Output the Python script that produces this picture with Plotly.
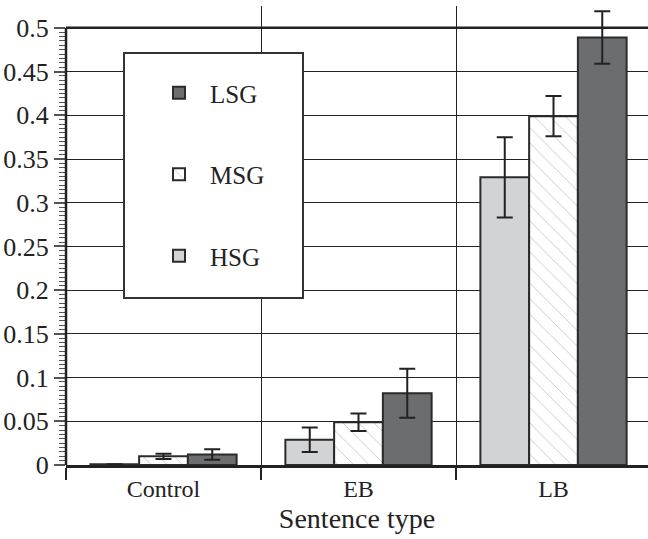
import plotly.graph_objects as go

categories = ["Control", "EB", "LB"]
groups = ["HSG", "MSG", "LSG"]
hsg_values = [0.0008, 0.029, 0.329]
hsg_errors = [0.0, 0.014, 0.046]
msg_values = [0.010, 0.049, 0.399]
msg_errors = [0.003, 0.010, 0.023]
lsg_values = [0.012, 0.082, 0.489]
lsg_errors = [0.006, 0.028, 0.030]
y_tick_values = [0, 0.05, 0.1, 0.15, 0.2, 0.25, 0.3, 0.35, 0.4, 0.45, 0.5]
y_tick_labels = ["0", "0.05", "0.1", "0.15", "0.2", "0.25", "0.3", "0.35", "0.4", "0.45", "0.5"]
y_top = 0.5
y_minor_ticks = [round(i * 0.005, 3) for i in range(101)]

FONT = "Liberation Serif"
INK = "#222222"
OUTLINE = "#2b2b2b"

W, H = 648, 539
ML, MR, MT, MB = 66, 0, 6, 74
PW, PH = W - ML - MR, H - MT - MB

series = [
    ("HSG", hsg_values, hsg_errors, dict(color="#d2d3d5"), 3),
    ("MSG", msg_values, msg_errors, dict(color="white",
                                         pattern=dict(shape="\\", fgcolor="#8a8a8a", bgcolor="white",
                                                      size=11, solidity=0.08)), 2),
    ("LSG", lsg_values, lsg_errors, dict(color="#6c6d6f"), 1),
]

fig = go.Figure()
for name, vals, errs, mk, rank in series:
    mk = dict(mk)
    mk["line"] = dict(color=OUTLINE, width=2)
    fig.add_trace(go.Bar(
        name=name, x=categories, y=vals,
        marker=mk,
        legendgroup=name, legendrank=rank,
        cliponaxis=False,
        error_y=dict(type="data", array=errs, visible=True, color=INK, thickness=2, width=8),
    ))

def px_x(px):
    return (px - ML) / PW

def px_y(py):
    return (H - MB - py) / PH

shapes = [
    # hide grid above the 0.5 top line
    dict(type="rect", xref="paper", yref="y", x0=0, x1=1, y0=y_top, y1=0.6,
         fillcolor="white", line=dict(width=0), layer="between"),
    # top frame line at 0.5
    dict(type="line", xref="paper", yref="y", x0=0, x1=1, y0=y_top, y1=y_top,
         line=dict(color=INK, width=2.5), layer="between"),
    # y axis line
    dict(type="line", xref="paper", yref="y", x0=0, x1=0, y0=0, y1=y_top,
         line=dict(color=INK, width=2.5), layer="above"),
    # legend frame
    dict(type="rect", xref="paper", yref="paper",
         x0=px_x(124), x1=px_x(303), y0=px_y(298), y1=px_y(53),
         fillcolor="white", line=dict(color="#333333", width=2), layer="above"),
]

fig.update_layout(
    width=W, height=H,
    margin=dict(l=ML, r=MR, t=MT, b=MB),
    paper_bgcolor="white", plot_bgcolor="white",
    barmode="group", bargap=0.25, bargroupgap=0,
    font=dict(family=FONT, size=25, color=INK),
    shapes=shapes,
    legend=dict(
        x=px_x(148), y=px_y(70), xanchor="left", yanchor="top",
        traceorder="grouped", tracegroupgap=46,
        bgcolor="rgba(0,0,0,0)", borderwidth=0,
        itemwidth=52,
        font=dict(family=FONT, size=25, color=INK),
    ),
    xaxis=dict(
        range=[-0.5, 2.5 - 3 / 195], type="category",
        tickson="boundaries", ticks="outside", ticklen=12, tickwidth=1.5, tickcolor=INK,
        showgrid=True, gridcolor="#222222", gridwidth=1.2,
        showline=True, linecolor=INK, linewidth=2.5, mirror=False,
        tickfont=dict(family=FONT, size=24, color=INK),
        title=dict(text="Sentence type", font=dict(family=FONT, size=28, color=INK), standoff=8),
    ),
    yaxis=dict(
        range=[0, 0.525],
        tickmode="array", tickvals=y_tick_values, ticktext=y_tick_labels,
        ticks="outside", ticklen=11, tickwidth=1.5, tickcolor="#555555",
        showgrid=True, gridcolor="#222222", gridwidth=1.2,
        showline=False,
        zeroline=False,
        tickfont=dict(family=FONT, size=26, color=INK),
        minor=dict(tickmode="array", tickvals=y_minor_ticks, ticks="outside", ticklen=6,
                   tickwidth=1.2, tickcolor="#555555", showgrid=False),
    ),
)

fig.write_html("out.html")
